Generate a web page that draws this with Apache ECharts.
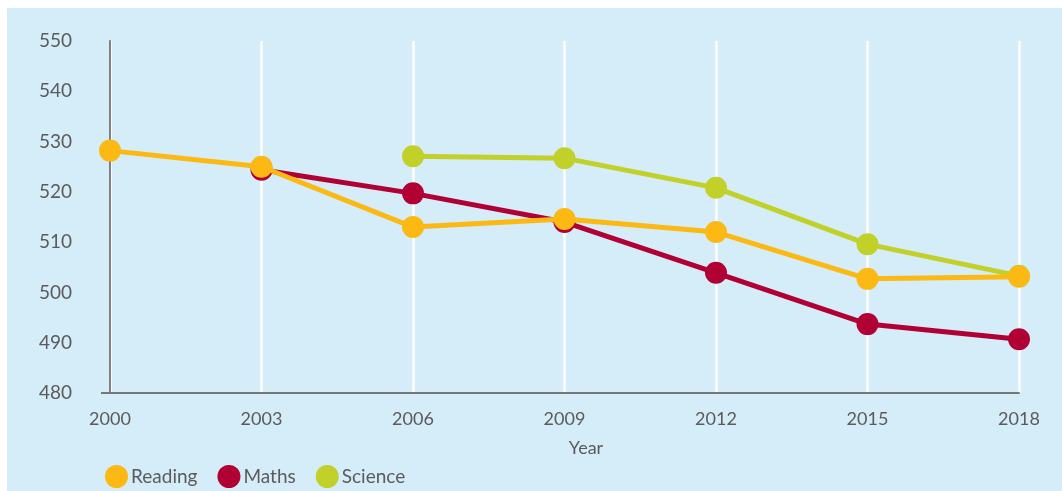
<!DOCTYPE html>
<html>
<head>
<meta charset="utf-8">
<script src="https://cdn.jsdelivr.net/npm/echarts@6/dist/echarts.min.js"></script>
<style>
  html, body { margin: 0; padding: 0; background: #fff; }
  #chart { width: 1062px; height: 491px; }
</style>
</head>
<body>
<div id="chart"></div>
<script>
const years = ["2000", "2003", "2006", "2009", "2012", "2015", "2018"];
const reading = [528.2, 525.0, 513.0, 514.6, 512.0, 502.7, 503.1];
const maths = [null, 524.4, 519.7, 514.0, 503.9, 493.7, 490.7];
const science = [null, null, 527.1, 526.7, 520.8, 509.6, 503.3];
const yTicks = { min: 480, max: 550, step: 10 };

const textColor = "#5b5b5b";
const font = "Lato, 'Open Sans', sans-serif";

const chart = echarts.init(document.getElementById("chart"));

const lineSeries = (name, data, color, z) => ({
  name,
  type: "line",
  data,
  z,
  symbol: "circle",
  symbolSize: 22,
  connectNulls: false,
  lineStyle: { color, width: 5 },
  itemStyle: { color },
  emphasis: { disabled: true },
});

chart.setOption({
  animation: false,
  backgroundColor: "#fff",
  graphic: [
    {
      type: "rect",
      z: -10,
      shape: { x: 7, y: 8, width: 1055, height: 483 },
      style: { fill: "#d5ecf9" },
      silent: true,
    },
    {
      type: "line",
      z: 10,
      shape: { x1: 101, y1: 393, x2: 111, y2: 393 },
      style: { stroke: "#777", lineWidth: 2 },
    },
    {
      type: "text",
      x: 586,
      y: 448,
      style: {
        text: "Year",
        fill: textColor,
        font: "18px " + font,
        align: "center",
        verticalAlign: "middle",
      },
    },
  ],
  grid: { left: 110, right: 43, top: 41, bottom: 98 },
  legend: {
    left: 100,
    top: 460,
    icon: "circle",
    itemWidth: 23,
    itemHeight: 23,
    itemGap: 20,
    data: ["Reading", "Maths", "Science"],
    textStyle: { color: textColor, fontSize: 19, fontFamily: font, padding: [0, 0, 0, -2] },
  },
  xAxis: {
    type: "category",
    data: years,
    boundaryGap: false,
    axisLine: { lineStyle: { color: "#777", width: 2 } },
    axisTick: { show: false },
    axisLabel: { color: textColor, fontSize: 18, fontFamily: font, margin: 17 },
    splitLine: { show: true, lineStyle: { color: "#ffffff", width: 2.5 } },
  },
  yAxis: {
    type: "value",
    min: yTicks.min,
    max: yTicks.max,
    interval: yTicks.step,
    axisLine: { show: true, lineStyle: { color: "#808080", width: 2 } },
    axisTick: { show: false },
    axisLabel: { color: textColor, fontSize: 19, fontFamily: font, margin: 38 },
    splitLine: { show: false },
  },
  series: [
    lineSeries("Science", science, "#c2d02a", 2),
    lineSeries("Maths", maths, "#b10034", 3),
    lineSeries("Reading", reading, "#fcb813", 4),
  ],
});
</script>
</body>
</html>
